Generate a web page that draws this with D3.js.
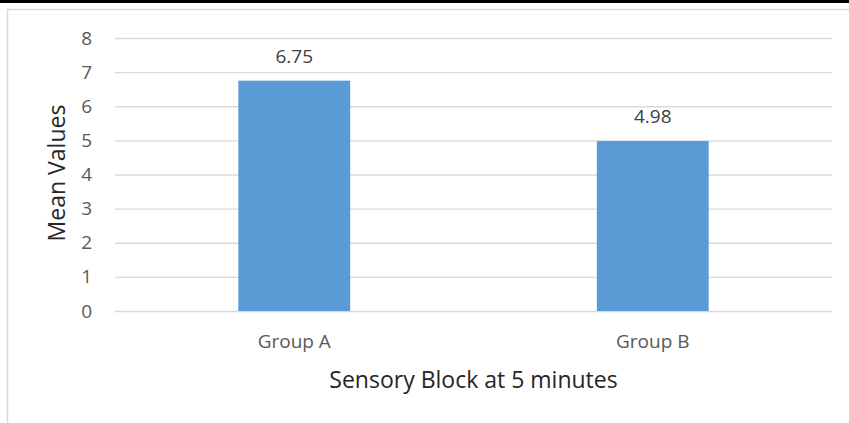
<!DOCTYPE html>
<html>
<head>
<meta charset="utf-8">
<script src="https://cdn.jsdelivr.net/npm/d3@7"></script>
<style>
  body { margin: 0; background: #fff; }
  svg { display: block; font-family: "Open Sans", sans-serif; }
</style>
</head>
<body>
<svg id="chart"></svg>
<script>
const groups = ["Group A", "Group B"];
const meanValues = [6.75, 4.98];
const yTicks = [0, 1, 2, 3, 4, 5, 6, 7, 8];

const width = 849;
const height = 423;
const margin = {top: 38, right: 17, bottom: 112, left: 115};
const font = "'Open Sans', sans-serif";

const svg = d3.select("#chart")
    .attr("width", width)
    .attr("height", height);

// frame: black strip on top, light border
svg.append("rect")
    .attr("x", 0).attr("y", 0)
    .attr("width", width).attr("height", 3)
    .attr("fill", "#000");
svg.append("path")
    .attr("d", `M7.5,${height} V9.5 H${width}`)
    .attr("fill", "none")
    .attr("stroke", "#d9d9d9")
    .attr("stroke-width", 1.5);

let xScale = d3.scaleBand()
    .domain(groups)
    .range([margin.left, width - margin.right])
    .paddingInner(0.688)
    .paddingOuter(0.344);

let yScale = d3.scaleLinear()
    .domain([0, 8])
    .range([height - margin.bottom, margin.top]);

let yAxis = d3.axisLeft(yScale)
    .tickValues(yTicks)
    .tickSize(-(width - margin.left - margin.right))
    .tickPadding(23)
    .tickFormat(d3.format("d"));

const gy = svg.append("g")
    .attr("transform", `translate(${margin.left}, 0)`)
    .call(yAxis)
    .attr("font-family", font)
    .attr("font-size", 19);
gy.select(".domain").remove();
gy.selectAll("line").attr("stroke", "#d9d9d9").attr("stroke-width", 1.3);
gy.selectAll("text").attr("fill", "#595959");

svg.append("g")
  .selectAll("rect")
  .data(meanValues)
  .enter()
  .append("rect")
    .attr("x", (d, i) => xScale(groups[i]))
    .attr("y", d => yScale(d))
    .attr("width", xScale.bandwidth())
    .attr("height", d => yScale(0) - yScale(d))
    .attr("fill", "#5b9bd5");

svg.append("g")
  .selectAll("text")
  .data(meanValues)
  .enter()
  .append("text")
    .attr("x", (d, i) => xScale(groups[i]) + xScale.bandwidth() / 2)
    .attr("y", d => yScale(d) - 18)
    .attr("text-anchor", "middle")
    .attr("fill", "#404040")
    .style("font-size", "19px")
    .text(d => d3.format(".2f")(d));

let xAxis = d3.axisBottom(xScale)
    .tickSize(0);

const gx = svg.append("g")
    .attr("transform", `translate(0, ${height - margin.bottom})`)
    .call(xAxis)
    .attr("font-family", font)
    .attr("font-size", 19);
gx.select(".domain").remove();
gx.selectAll("text").attr("fill", "#595959").attr("dy", null).attr("y", 37);

svg.append("text")
    .attr("x", (margin.left + width - margin.right) / 2)
    .attr("y", 388)
    .attr("text-anchor", "middle")
    .attr("fill", "#262626")
    .style("font-size", "23px")
    .text("Sensory Block at 5 minutes");

svg.append("text")
    .attr("transform", "rotate(-90)")
    .attr("x", -173)
    .attr("y", 65)
    .attr("text-anchor", "middle")
    .attr("fill", "#262626")
    .style("font-size", "23px")
    .text("Mean Values");
</script>
</body>
</html>
